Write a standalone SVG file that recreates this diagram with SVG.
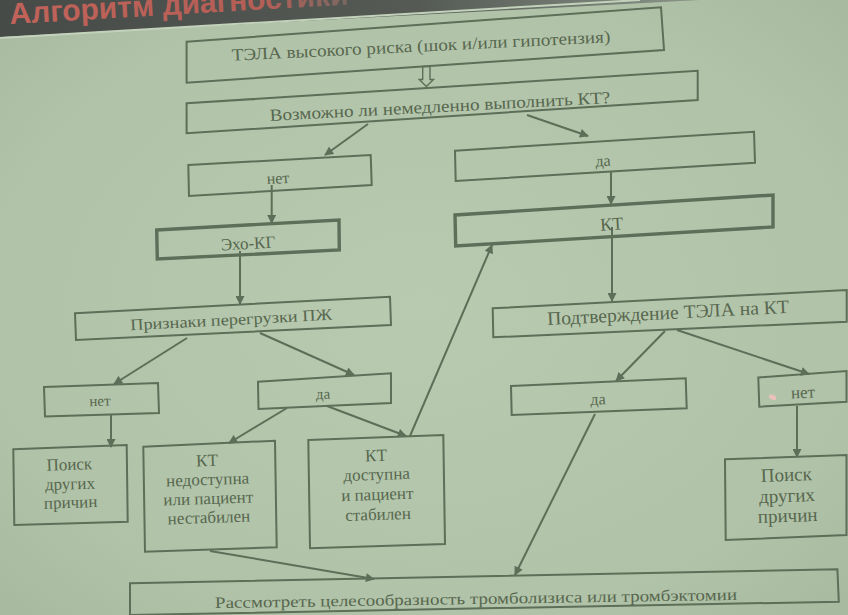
<svg xmlns="http://www.w3.org/2000/svg" width="848" height="615" viewBox="0 0 848 615">
  <defs>
    <radialGradient id="bg" cx="0.5" cy="0.5" r="0.75">
      <stop offset="0" stop-color="#b8cab0"/>
      <stop offset="0.7" stop-color="#b0c3a8"/>
      <stop offset="1" stop-color="#a5b89e"/>
    </radialGradient>
    <linearGradient id="band" x1="0" y1="0" x2="700" y2="0" gradientUnits="userSpaceOnUse">
      <stop offset="0" stop-color="#474b48"/>
      <stop offset="0.6" stop-color="#555a55"/>
      <stop offset="1" stop-color="#8a9487"/>
    </linearGradient>
    <linearGradient id="titlefill" x1="0" y1="0" x2="480" y2="0" gradientUnits="userSpaceOnUse">
      <stop offset="0" stop-color="#c2635a"/>
      <stop offset="0.55" stop-color="#b45e56"/>
      <stop offset="0.78" stop-color="#6a6c66"/>
      <stop offset="1" stop-color="#5a5f5a"/>
    </linearGradient>
    <marker id="ah" viewBox="0 0 10 10" refX="9" refY="5" markerWidth="10" markerHeight="9" markerUnits="userSpaceOnUse" orient="auto">
      <path d="M0,0 L10,5 L0,10 Z" fill="#5d6e59"/>
    </marker>
    <style>
      .box { fill: none; stroke: #5d6e59; stroke-width: 2; stroke-linejoin: miter; }
      .thick { stroke-width: 3.4; }
      .t { font-family: "Liberation Serif", "Times New Roman", serif; fill: #58674f; text-anchor: middle; }
      .c { stroke: #5d6e59; stroke-width: 2; fill: none; marker-end: url(#ah); }
    </style>
  </defs>

  <rect x="0" y="0" width="848" height="615" fill="url(#bg)"/>

  <!-- title band -->
  <polygon points="0,0 700,0 0,37" fill="url(#band)"/>
  <line x1="0" y1="38" x2="640" y2="0" stroke="#c3d2bb" stroke-width="2"/>
  <text x="10" y="24" transform="rotate(-3.3 10 24)" font-family="'Liberation Sans', Arial, sans-serif" font-weight="bold" font-size="30" fill="url(#titlefill)">Алгоритм диагностики</text>

  <!-- connectors -->
  <g id="connectors">
    <polygon points="422.7,66.5 430,66.5 430,79.5 433.5,79.5 426.4,86.5 419.3,79.5 422.7,79.5" fill="none" stroke="#5d6e59" stroke-width="1.4"/>
    <line class="c" x1="368" y1="124" x2="325" y2="155"/>
    <line class="c" x1="527" y1="115" x2="588" y2="136"/>
    <line class="c" x1="271.7" y1="185" x2="271.7" y2="223"/>
    <line class="c" x1="611" y1="172" x2="611" y2="204"/>
    <line class="c" x1="240" y1="251" x2="240" y2="304"/>
    <line class="c" x1="612" y1="227" x2="612" y2="301"/>
    <line class="c" x1="187" y1="338" x2="114" y2="384"/>
    <line class="c" x1="260" y1="333" x2="354" y2="375"/>
    <line class="c" x1="111" y1="415" x2="111" y2="447"/>
    <line class="c" x1="287" y1="408" x2="229" y2="443"/>
    <line class="c" x1="327" y1="406" x2="406" y2="436"/>
    <line class="c" x1="410" y1="436" x2="492" y2="245"/>
    <line class="c" x1="665" y1="331" x2="616" y2="381"/>
    <line class="c" x1="677" y1="330" x2="809" y2="374"/>
    <line class="c" x1="797" y1="406" x2="797" y2="457"/>
    <line class="c" x1="595" y1="414" x2="515" y2="575"/>
    <line class="c" x1="210" y1="551" x2="374" y2="579" stroke-width="2.8"/>
  </g>

  <g id="n-tela">
    <polygon class="box" points="186.6,41.7 661,7.3 664,50 186.6,82.7"/>
    <text class="t" x="421" y="51.5" font-size="17" textLength="379" lengthAdjust="spacingAndGlyphs" transform="rotate(-2.8 421 46)">ТЭЛА высокого риска (шок и/или гипотензия)</text>
  </g>
  <g id="n-possible">
    <polygon class="box" points="186.6,103.3 697.7,70.7 697.7,100 186.6,133.3"/>
    <text class="t" x="440" y="112" font-size="17" textLength="341" lengthAdjust="spacingAndGlyphs" transform="rotate(-3 440 107)">Возможно ли немедленно выполнить КТ?</text>
  </g>
  <g id="n-no1">
    <polygon class="box" points="188.3,165 370.7,155 371.7,185 189,196"/>
    <text class="t" x="278" y="183.5" font-size="16" transform="rotate(-3 278 179)">нет</text>
  </g>
  <g id="n-yes1">
    <polygon class="box" points="455,150.7 754,131.7 755,162.7 455.7,181"/>
    <text class="t" x="603" y="166" font-size="16" transform="rotate(-3.5 603 162)">да</text>
  </g>
  <g id="n-echo">
    <polygon class="box thick" points="156.7,230 339,220 339.3,250 157.3,259"/>
    <text class="t" x="248" y="249" font-size="17" transform="rotate(-3 248 243)">Эхо-КГ</text>
  </g>
  <g id="n-ct">
    <polygon class="box thick" points="455,215 773,195 773,227 455.7,246"/>
    <text class="t" x="611.7" y="230" font-size="18" transform="rotate(-3.5 611.7 224)">КТ</text>
  </g>
  <g id="n-signs">
    <polygon class="box" points="75,313.3 390,296.7 391,325 76,340"/>
    <text class="t" x="231" y="325" font-size="16" textLength="202" lengthAdjust="spacingAndGlyphs" transform="rotate(-3 231 320)">Признаки перегрузки ПЖ</text>
  </g>
  <g id="n-confirm">
    <polygon class="box" points="492.7,308.3 846.7,290 846.7,321.7 493.3,337.3"/>
    <text class="t" x="668" y="319" font-size="19" textLength="242" lengthAdjust="spacingAndGlyphs" transform="rotate(-2.9 668 313)">Подтверждение ТЭЛА на КТ</text>
  </g>
  <g id="n-no2">
    <polygon class="box" points="44,387 158,383 159,413 45,416.5"/>
    <text class="t" x="100" y="406" font-size="15" transform="rotate(-2 100 402)">нет</text>
  </g>
  <g id="n-yes2">
    <polygon class="box" points="258,381.7 391,373.3 391,403 258.5,409"/>
    <text class="t" x="323" y="399" font-size="15" transform="rotate(-2.5 323 395)">да</text>
  </g>
  <g id="n-yes3">
    <polygon class="box" points="511,386 685.7,378.3 686.7,408.3 511.7,415"/>
    <text class="t" x="598" y="404.5" font-size="16" transform="rotate(-2.5 598 400)">да</text>
  </g>
  <g id="n-no3">
    <polygon class="box" points="758.3,377.5 846.5,371 846.5,401.7 759.3,406.7"/>
    <text class="t" x="803" y="398" font-size="17" transform="rotate(-3 803 393)">нет</text>
    <ellipse cx="772.7" cy="397.3" rx="3.8" ry="2.3" fill="#ecc0bb" transform="rotate(25 772.7 397.3)"/>
  </g>
  <g id="n-search1">
    <polygon class="box" points="13.3,449.3 126.7,445 127.7,521.7 14.3,525"/>
    <g class="t" font-size="17" transform="rotate(-2 70 485)">
      <text x="70" y="470">Поиск</text>
      <text x="70" y="489.5">других</text>
      <text x="70" y="508">причин</text>
    </g>
  </g>
  <g id="n-ctunavail">
    <polygon class="box" points="143.3,446.7 275,440.7 276.7,547.3 145,551.7"/>
    <g class="t" font-size="17" transform="rotate(-2 208 490)">
      <text x="208" y="466">КТ</text>
      <text x="208" y="485">недоступна</text>
      <text x="208" y="504">или пациент</text>
      <text x="208" y="523">нестабилен</text>
    </g>
  </g>
  <g id="n-ctavail">
    <polygon class="box" points="308.3,440 443.3,435 445,544 310,548.3"/>
    <g class="t" font-size="17" transform="rotate(-2 377 485)">
      <text x="377" y="461">КТ</text>
      <text x="377" y="480">доступна</text>
      <text x="377" y="500">и пациент</text>
      <text x="377" y="520">стабилен</text>
    </g>
  </g>
  <g id="n-search2">
    <polygon class="box" points="725,459.3 846.5,455 846.5,535 725.7,540"/>
    <g class="t" font-size="19" transform="rotate(-2 787 497)">
      <text x="787" y="481">Поиск</text>
      <text x="787" y="502">других</text>
      <text x="787" y="522">причин</text>
    </g>
  </g>
  <g id="n-consider">
    <polygon class="box" points="130,583.3 837.4,569.3 838.8,601.7 130,615"/>
    <text class="t" x="476" y="604" font-size="16" textLength="522" lengthAdjust="spacingAndGlyphs" transform="rotate(-0.9 476 599)">Рассмотреть целесообразность тромболизиса или тромбэктомии</text>
  </g>
</svg>
